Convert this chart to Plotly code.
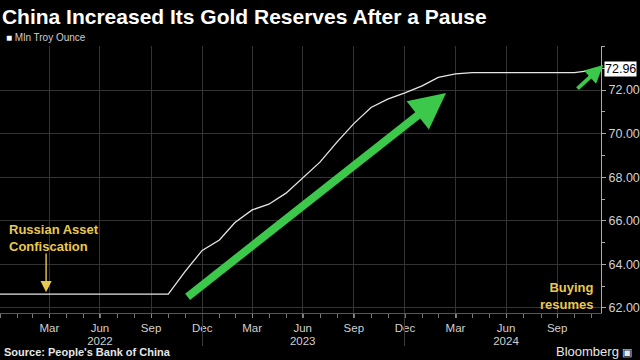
import plotly.graph_objects as go

# ---- data (month-end observations, million troy ounces) ----
dates = ["2021-12-31", "2022-01-31", "2022-02-28", "2022-03-31", "2022-04-30", "2022-05-31",
         "2022-06-30", "2022-07-31", "2022-08-31", "2022-09-30", "2022-10-31", "2022-11-30",
         "2022-12-31", "2023-01-31", "2023-02-28", "2023-03-31", "2023-04-30", "2023-05-31",
         "2023-06-30", "2023-07-31", "2023-08-31", "2023-09-30", "2023-10-31", "2023-11-30",
         "2023-12-31", "2024-01-31", "2024-02-29", "2024-03-31", "2024-04-30", "2024-05-31",
         "2024-06-30", "2024-07-31", "2024-08-31", "2024-09-30", "2024-10-31", "2024-12-18"]
values = [62.64, 62.64, 62.64, 62.64, 62.64, 62.64,
          62.64, 62.64, 62.64, 62.64, 62.64, 63.67,
          64.64, 65.12, 65.92, 66.50, 66.76, 67.27,
          67.95, 68.69, 69.62, 70.46, 71.20, 71.58,
          71.87, 72.19, 72.58, 72.74, 72.80, 72.80,
          72.80, 72.80, 72.80, 72.80, 72.80, 72.96]

x_tick_dates = ["2022-03-31", "2022-06-30", "2022-09-30", "2022-12-31", "2023-03-31", "2023-06-30",
                "2023-09-30", "2023-12-31", "2024-03-31", "2024-06-30", "2024-09-30"]
x_tick_text = ["Mar", "Jun", "Sep", "Dec", "Mar", "Jun", "Sep", "Dec", "Mar", "Jun", "Sep"]
year_dates = ["2022-06-30", "2023-06-30", "2024-06-30"]
year_text = ["2022", "2023", "2024"]
year_breaks = ["2022-12-31", "2023-12-31"]
y_ticks = [62, 64, 66, 68, 70, 72]

x_range = ["2022-01-01", "2024-12-18"]
y_range = [61.77, 74.02]

YELLOW = "#e8c94f"
GREEN = "#3cc84a"
GRID = "#333333"
TICKC = "#d0d0d0"
FONT = "Liberation Sans, Arial, sans-serif"

fig = go.Figure()
fig.add_trace(go.Scatter(x=dates, y=values, mode="lines",
                         line=dict(color="#e6e6e6", width=1.3),
                         showlegend=False, hoverinfo="skip"))
# invisible helpers so the overlay axes render
for ax in ("x2", "x3"):
    fig.add_trace(go.Scatter(x=[dates[0]], y=[values[0]], xaxis=ax, yaxis="y",
                             mode="markers", marker=dict(opacity=0), showlegend=False,
                             hoverinfo="skip"))

fig.update_layout(
    width=640, height=360,
    paper_bgcolor="#000000", plot_bgcolor="#000000",
    margin=dict(l=0, r=36, t=46, b=47),
    font=dict(family=FONT, color=TICKC),
    title=dict(text="<b>China Increased Its Gold Reserves After a Pause</b>",
               x=0.003, xanchor="left", y=0.955, yanchor="middle",
               font=dict(size=21, color="#ffffff", family=FONT)),
    xaxis=dict(type="date", range=x_range, tickvals=x_tick_dates, ticktext=x_tick_text,
               showgrid=True, gridcolor=GRID, gridwidth=1,
               ticks="outside", ticklen=4, tickcolor="#888888",
               showline=True, linecolor="#555555", linewidth=1,
               tickfont=dict(size=11.5, color=TICKC),
               minor=dict(dtick="M1", tick0="2022-01-01", ticks="outside", ticklen=4,
                          tickcolor="#777777", showgrid=False),
               zeroline=False),
    xaxis2=dict(type="date", range=x_range, overlaying="x", anchor="y", side="bottom",
                tickvals=year_breaks, showticklabels=False, ticks="outside",
                ticklen=32, tickcolor="#3a3a3a", showgrid=False, showline=False, zeroline=False),
    xaxis3=dict(type="date", range=x_range, overlaying="x", anchor="y", side="bottom",
                tickvals=year_dates, ticktext=year_text, ticks="", ticklabelstandoff=19,
                tickfont=dict(size=11.5, color=TICKC),
                showgrid=False, showline=False, zeroline=False),
    yaxis=dict(range=y_range, side="right", tickvals=y_ticks, tickformat=".2f",
               showgrid=True, gridcolor=GRID, gridwidth=1,
               ticks="outside", ticklen=4, tickcolor="#aaaaaa",
               showline=True, linecolor="#aaaaaa", linewidth=1,
               tickfont=dict(size=12.5, color=TICKC),
               minor=dict(dtick=1, ticks="outside", ticklen=3, tickcolor="#aaaaaa", showgrid=False),
               zeroline=False),
)

ann = []
ann.append(dict(xref="paper", yref="paper", x=0.006, y=1.03, xanchor="left", yanchor="middle",
                text="<span style='color:#ffffff'>■</span> Mln Troy Ounce", showarrow=False,
                font=dict(size=10, color="#cfcfcf")))
ann.append(dict(xref="paper", yref="y", x=1, y=values[-1], xanchor="left", yanchor="middle",
                xshift=3, text="72.96", showarrow=False, bgcolor="#ffffff",
                font=dict(size=12.5, color="#000000"), borderpad=0))
ann.append(dict(xref="x", yref="y", x="2022-01-14", y=65.23, xanchor="left", yanchor="middle",
                text="<b>Russian Asset<br>Confiscation</b>", showarrow=False, align="left",
                font=dict(size=13, color=YELLOW)))
ann.append(dict(xref="x", yref="y", x="2022-03-25", y=62.72, ax="2022-03-25", ay=64.57,
                axref="x", ayref="y", text="", showarrow=True, arrowhead=2, arrowsize=1.6,
                arrowwidth=1.4, arrowcolor=YELLOW))
ann.append(dict(xref="x", yref="y", x="2024-12-09", y=62.55, xanchor="right", yanchor="middle",
                text="<b>Buying<br>resumes</b>", showarrow=False, align="right",
                font=dict(size=13, color=YELLOW)))
ann.append(dict(xref="x", yref="y", x="2024-03-14", y=71.86, ax="2022-12-02", ay=62.46,
                axref="x", ayref="y", text="", showarrow=True, arrowhead=2, arrowsize=0.9,
                arrowwidth=8, arrowcolor=GREEN, standoff=0))
ann.append(dict(xref="x", yref="y", x="2024-12-22", y=73.15, ax="2024-11-03", ay=72.0,
                axref="x", ayref="y", text="", showarrow=True, arrowhead=2, arrowsize=0.9,
                arrowwidth=4, arrowcolor=GREEN, standoff=0))
ann.append(dict(xref="paper", yref="paper", x=0.004, y=-0.146, xanchor="left", yanchor="middle",
                text="<b>Source: People's Bank of China</b>", showarrow=False,
                font=dict(size=11, color="#e6e6e6")))
ann.append(dict(xref="paper", yref="paper", x=1.055, y=-0.146, xanchor="right", yanchor="middle",
                text="Bloomberg <span style='font-size:11px'>▣</span>", showarrow=False,
                font=dict(size=13, color="#e6e6e6")))
fig.update_layout(annotations=ann)

fig.write_html("out.html", config={"displayModeBar": False},
               post_script="document.body.style.margin='0px';document.body.style.background='#000';")
